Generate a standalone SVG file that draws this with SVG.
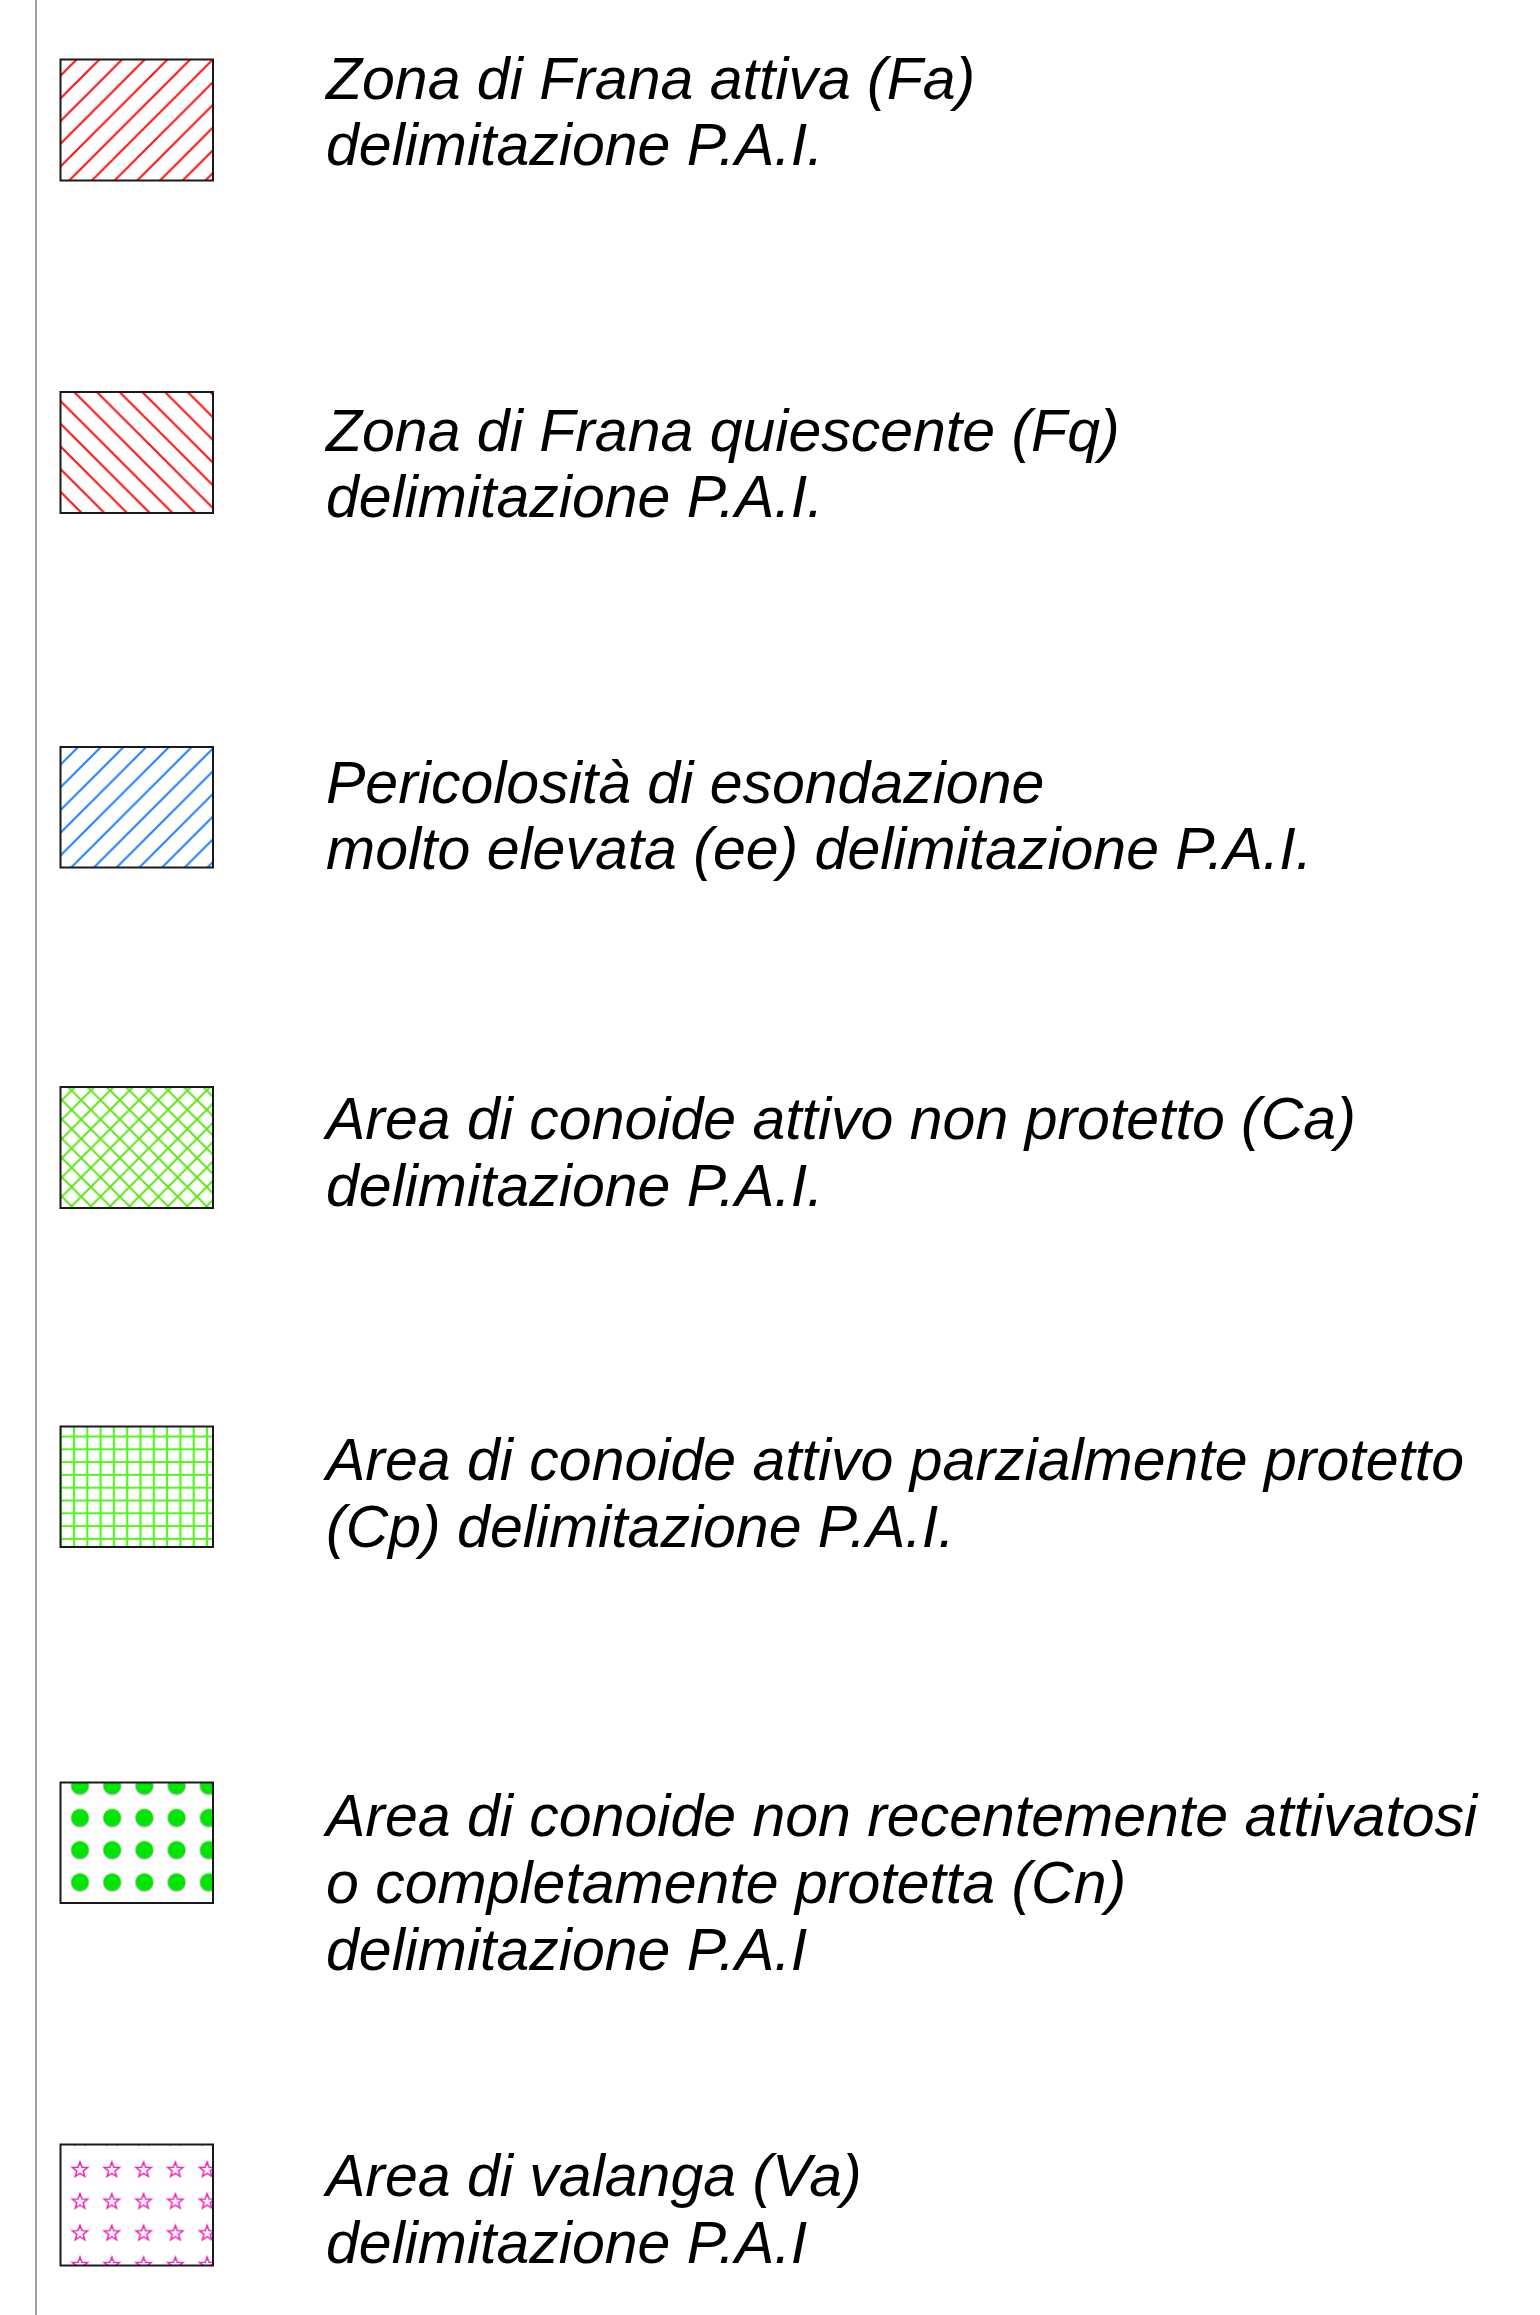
<svg xmlns="http://www.w3.org/2000/svg" width="1540" height="2315" viewBox="0 0 1540 2315">
<style>
.lbl{font-family:"Liberation Sans",Arial,sans-serif;font-style:italic;font-size:59px;fill:#000}
.box{fill:none;stroke:#1a1a1a;stroke-width:2}
</style>
<defs>
<pattern id="pRedFwd" patternUnits="userSpaceOnUse" x="0" y="0" width="22.7" height="22.7">
<path d="M0,22.7 L22.7,0 M-5.7,5.7 L5.7,-5.7 M17,28.4 L28.4,17" stroke="#ff1010" stroke-width="2"/>
</pattern>
<pattern id="pRedBack" patternUnits="userSpaceOnUse" x="0" y="0" width="22.7" height="22.7">
<path d="M0,0 L22.7,22.7 M-5.7,17 L5.7,28.4 M17,-5.7 L28.4,5.7" stroke="#ff1010" stroke-width="2"/>
</pattern>
<pattern id="pBlue" patternUnits="userSpaceOnUse" x="8" y="0" width="22.7" height="22.7">
<path d="M0,22.7 L22.7,0 M-5.7,5.7 L5.7,-5.7 M17,28.4 L28.4,17" stroke="#1f7fff" stroke-width="2"/>
</pattern>
<pattern id="pCross" patternUnits="userSpaceOnUse" x="4" y="0" width="19.3" height="19.3">
<path d="M0,19.3 L19.3,0 M-5,5 L5,-5 M14.3,24.3 L24.3,14.3 M0,0 L19.3,19.3 M-5,14.3 L5,24.3 M14.3,-5 L24.3,5" stroke="#5fe61a" stroke-width="2"/>
</pattern>
<pattern id="pGrid" patternUnits="userSpaceOnUse" x="74" y="1436.5" width="13.3" height="12.8">
<path d="M0,0 V12.8 M13.3,0 V12.8 M0,0 H13.3 M0,12.8 H13.3" stroke="#55f522" stroke-width="2.2"/>
</pattern>
<pattern id="pDots" patternUnits="userSpaceOnUse" x="64" y="1769.3" width="32.2" height="32.2">
<circle cx="16" cy="17" r="9.2" fill="#b0b0b0"/>
<circle cx="16" cy="16" r="8.7" fill="#00e600"/>
</pattern>
<pattern id="pStars" patternUnits="userSpaceOnUse" x="64.1" y="2154.1" width="31.8" height="31.7">
<path transform="translate(15.9,15.9)" d="M0,-8 L1.94,-2.67 L7.61,-2.47 L3.14,1.02 L4.70,6.47 L0,3.3 L-4.70,6.47 L-3.14,1.02 L-7.61,-2.47 L-1.94,-2.67 Z" fill="none" stroke="#ee22bb" stroke-width="1.5"/>
</pattern>
</defs>
<rect x="0" y="0" width="1540" height="2315" fill="#fff"/>
<line id="sideline" x1="36" y1="0" x2="36" y2="2315" stroke="#8a8a8a" stroke-width="1.6"/>

<g id="item-fa">
<rect x="60.5" y="59.5" width="152.5" height="121" fill="url(#pRedFwd)"/>
<rect class="box" x="60.5" y="59.5" width="152.5" height="121"/>
<text class="lbl" x="326" y="99">Zona di Frana attiva (Fa)</text>
<text class="lbl" x="326" y="165">delimitazione P.A.I.</text>
</g>

<g id="item-fq">
<rect x="60.5" y="392" width="152.5" height="121" fill="url(#pRedBack)"/>
<rect class="box" x="60.5" y="392" width="152.5" height="121"/>
<text class="lbl" x="326" y="451">Zona di Frana quiescente (Fq)</text>
<text class="lbl" x="326" y="517">delimitazione P.A.I.</text>
</g>

<g id="item-ee">
<rect x="60.5" y="747" width="152.5" height="120.5" fill="url(#pBlue)"/>
<rect class="box" x="60.5" y="747" width="152.5" height="120.5"/>
<text class="lbl" x="326" y="803">Pericolosità di esondazione</text>
<text class="lbl" x="326" y="869">molto elevata (ee) delimitazione P.A.I.</text>
</g>

<g id="item-ca">
<rect x="60.5" y="1087" width="152.5" height="121" fill="url(#pCross)"/>
<rect class="box" x="60.5" y="1087" width="152.5" height="121"/>
<text class="lbl" x="326" y="1139">Area di conoide attivo non protetto (Ca)</text>
<text class="lbl" x="326" y="1206">delimitazione P.A.I.</text>
</g>

<g id="item-cp">
<rect x="60.5" y="1426.5" width="152.5" height="120.5" fill="url(#pGrid)"/>
<rect class="box" x="60.5" y="1426.5" width="152.5" height="120.5"/>
<text class="lbl" x="326" y="1480">Area di conoide attivo parzialmente protetto</text>
<text class="lbl" x="326" y="1547">(Cp) delimitazione P.A.I.</text>
</g>

<g id="item-cn">
<rect x="60.5" y="1782.5" width="152.5" height="120.5" fill="url(#pDots)"/>
<rect class="box" x="60.5" y="1782.5" width="152.5" height="120.5"/>
<text class="lbl" x="326" y="1836">Area di conoide non recentemente attivatosi</text>
<text class="lbl" x="326" y="1903">o completamente protetta (Cn)</text>
<text class="lbl" x="326" y="1970">delimitazione P.A.I</text>
</g>

<g id="item-va">
<rect x="60.5" y="2144.5" width="152.5" height="121" fill="url(#pStars)"/>
<rect class="box" x="60.5" y="2144.5" width="152.5" height="121"/>
<text class="lbl" x="326" y="2196">Area di valanga (Va)</text>
<text class="lbl" x="326" y="2263">delimitazione P.A.I</text>
</g>
</svg>
